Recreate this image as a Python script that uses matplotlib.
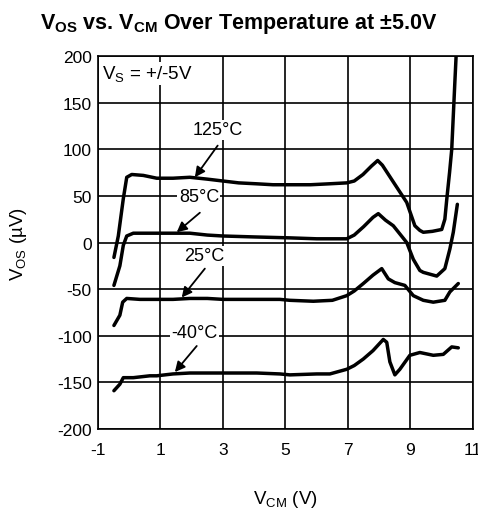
import matplotlib
matplotlib.use("Agg")
import matplotlib.pyplot as plt

plt.rcParams['font.family'] = ['Liberation Sans', 'DejaVu Sans']
plt.rcParams['mathtext.fontset'] = 'custom'
plt.rcParams['mathtext.rm'] = 'Liberation Sans'
plt.rcParams['mathtext.bf'] = 'Liberation Sans:bold'
plt.rcParams['axes.unicode_minus'] = False

### curves (V_CM in V, V_OS in uV)
vcm_125 = [-0.49, -0.35, -0.19, -0.08, 0.08, 0.45, 0.88, 1.4, 1.94, 2.5, 3.0, 3.5, 4.08,
           4.6, 5.14, 5.8, 6.4, 6.96, 7.2, 7.48, 7.75, 7.95, 8.1, 8.45, 8.88, 9.14, 9.3,
           9.41, 9.7, 10.0, 10.1, 10.16, 10.25, 10.32, 10.42, 10.46]
vos_125 = [-16, 7, 47, 70, 73, 72, 69, 69, 70, 68, 66, 64, 63,
           62, 62, 62, 63, 64, 66, 73, 82, 88, 83, 65, 43, 18, 13,
           11, 12, 14, 25, 46, 75, 100, 172, 200]

vcm_85 = [-0.49, -0.3, -0.19, -0.08, 0.13, 0.88, 1.4, 1.94, 2.5, 3.0, 4.0, 5.14, 6.0,
          6.96, 7.2, 7.5, 7.8, 7.97, 8.2, 8.45, 8.88, 9.09, 9.3, 9.41, 9.84, 10.1,
          10.26, 10.37, 10.5]
vos_85 = [-46, -25, -3, 7, 10, 10, 10, 10, 8, 7, 6, 5, 4,
          4, 8, 17, 27, 31, 24, 18, 0, -18, -30, -32, -36, -28,
          -7, 11, 41]

vcm_25 = [-0.49, -0.3, -0.21, -0.08, 0.34, 0.88, 1.4, 1.94, 2.5, 3.0, 4.08, 4.82, 5.14,
          5.89, 6.5, 6.96, 7.2, 7.49, 7.8, 8.08, 8.29, 8.5, 8.82, 9.09, 9.41, 9.73,
          10.1, 10.26, 10.53]
vos_25 = [-89, -78, -64, -60, -61, -61, -61, -60, -60, -61, -61, -61, -62,
          -63, -62, -57, -52, -44, -35, -28, -39, -43, -46, -57, -62, -64,
          -62, -53, -44]

vcm_m40 = [-0.49, -0.3, -0.19, 0.13, 0.66, 0.88, 1.4, 1.94, 2.5, 3.0, 4.08, 4.82, 5.14,
           6.0, 6.42, 6.96, 7.2, 7.49, 7.8, 8.13, 8.24, 8.34, 8.5, 8.66, 8.98, 9.3,
           9.73, 10.05, 10.32, 10.53]
vos_m40 = [-159, -152, -145, -145, -143, -143, -141, -140, -140, -140, -140, -141, -142,
           -141, -141, -136, -132, -125, -116, -104, -107, -128, -142, -136, -121, -118,
           -121, -120, -112, -113]

curves = [(vcm_125, vos_125), (vcm_85, vos_85), (vcm_25, vos_25), (vcm_m40, vos_m40)]

labels = ["125°C", "85°C", "25°C", "-40°C"]
label_xy = [(2.84, 121), (2.23, 49), (2.39, -14), (2.1, -97)]
arrow_tail = [(2.83, 104), (2.26, 32), (2.42, -28), (2.16, -111)]
arrow_head = [(2.1, 70), (1.52, 11), (1.68, -59), (1.46, -139)]

xticks = [-1, 1, 3, 5, 7, 9, 11]
yticks = [-200, -150, -100, -50, 0, 50, 100, 150, 200]

fig = plt.figure(figsize=(4.78, 5.10), dpi=100)
ax = fig.add_axes([0.205, 0.157, 0.7845, 0.731])

for x, y in curves:
    ax.plot(x, y, color="black", lw=2.5, solid_capstyle="round", zorder=3)

for txt, (lx, ly), tail, head in zip(labels, label_xy, arrow_tail, arrow_head):
    ax.text(lx, ly, txt, fontsize=13, ha="center", va="center", zorder=4,
            bbox=dict(facecolor="white", edgecolor="none", pad=1))
    ax.annotate("", xy=head, xytext=tail, zorder=4,
                arrowprops=dict(arrowstyle="-|>", color="black", lw=1.3,
                                mutation_scale=15, shrinkA=0, shrinkB=0))

ax.text(-0.86, 181, r"V$_\mathrm{S}$ = +/-5V", fontsize=13.5, ha="left", va="center",
        zorder=4, bbox=dict(facecolor="white", edgecolor="none", pad=1))

ax.set_xlim(-1, 11)
ax.set_ylim(-200, 200)
ax.set_xticks(xticks)
ax.set_yticks(yticks)
ax.tick_params(length=0, labelsize=12.5)
ax.tick_params(axis="x", pad=9.5)
ax.tick_params(axis="y", pad=4.5)
ax.grid(True, color="black", lw=1.2)
for s in ax.spines.values():
    s.set_linewidth(1.2)

ax.set_xlabel(r"V$_\mathrm{CM}$ (V)", fontsize=13.5, labelpad=22)
ax.set_ylabel(r"V$_\mathrm{OS}$ (µV)", fontsize=13.5, labelpad=20)
fig.text(0.5, 0.952, r"V$_\mathbf{OS}$ vs. V$_\mathbf{CM}$ Over Temperature at ±5.0V",
         fontsize=15.5, fontweight="bold", ha="center", va="center")

fig.savefig("out.png", dpi=100)
